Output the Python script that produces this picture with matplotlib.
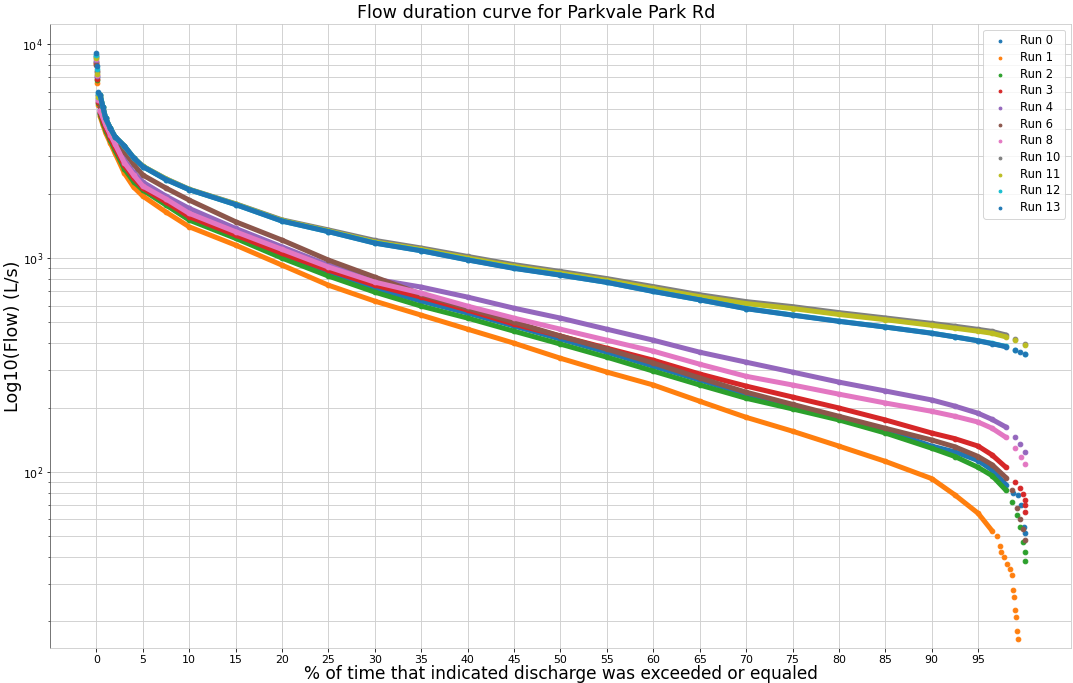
import matplotlib
matplotlib.use("Agg")
import matplotlib.pyplot as plt

nan = float('nan')

# exceedance percentages for the dense part of each curve
pct = [0.4, 0.7, 1, 1.5, 2, 3, 4, 5, 7.5, 10, 15, 20, 25, 30, 35, 40, 45, 50,
       55, 60, 65, 70, 75, 80, 85, 90, 92.5, 95, 96.5, 98]
# first few (highest) flows, drawn as loose points
head_pct = [0.0, 0.1, 0.2]

# flows in L/s at each pct value
run0 = [4750, 4350, 4000, 3600, 3250, 2680, 2330, 2103, 1809, 1539, 1261, 1022, 851, 724,
        629, 553, 481, 418, 363, 312, 269, 231, 203, 178, 157, 132, 124, 113, 102, 87]
run1 = [4600, 4200, 3850, 3450, 3100, 2500, 2150, 1950, 1642, 1401, 1150, 927, 747, 629,
        541, 465, 400, 340, 293, 255, 214, 180, 155, 132, 112, 93, 78, 64, 53, nan]
run2 = [4700, 4300, 3950, 3550, 3200, 2620, 2280, 2081, 1770, 1506, 1237, 1000, 824, 693,
        596, 524, 455, 396, 344, 296, 255, 221, 197, 175, 152, 129, 118, 105, 96, 82]
run3 = [4800, 4400, 4050, 3650, 3300, 2720, 2370, 2126, 1828, 1561, 1281, 1052, 878, 747,
        657, 571, 491, 432, 379, 333, 287, 252, 224, 199, 175, 152, 143, 132, 120, 105]
run4 = [4950, 4600, 4250, 3830, 3480, 2880, 2520, 2268, 1950, 1708, 1377, 1129, 927, 797,
        732, 657, 583, 524, 465, 413, 363, 326, 293, 263, 239, 217, 203, 188, 176, 162]
run6 = [5100, 4750, 4400, 4000, 3650, 3150, 2750, 2446, 2126, 1868, 1479, 1214, 979, 815,
        678, 583, 502, 432, 375, 323, 275, 236, 207, 182, 160, 141, 131, 118, 108, 94]
run8 = [4900, 4550, 4200, 3780, 3420, 2800, 2450, 2172, 1889, 1619, 1328, 1098, 908, 772,
        686, 596, 524, 465, 413, 367, 319, 280, 255, 231, 210, 192, 182, 171, 160, 145]
run10 = [5800, 5100, 4500, 4050, 3700, 3350, 2950, 2690, 2350, 2100, 1795, 1510, 1355, 1210,
         1115, 1018, 932, 866, 802, 736, 674, 626, 593, 556, 525, 495, 480, 464, 454, 437]
run11 = [5800, 5100, 4500, 4050, 3700, 3350, 2950, 2690, 2345, 2095, 1790, 1500, 1340, 1190,
         1098, 1000, 915, 850, 787, 721, 660, 613, 581, 545, 515, 485, 470, 455, 445, 428]
run12 = [5800, 5100, 4500, 4050, 3700, 3350, 2950, 2680, 2330, 2090, 1780, 1490, 1330, 1177,
         1083, 982, 897, 833, 770, 699, 638, 581, 542, 507, 476, 446, 428, 411, 399, 386]
run13 = [5800, 5100, 4500, 4050, 3700, 3350, 2950, 2680, 2330, 2090, 1780, 1490, 1330, 1175,
         1082, 980, 895, 832, 770, 698, 638, 580, 541, 506, 476, 445, 428, 410, 398, 385]

heads = {
    "0": [8800, 7000, 5600], "1": [8100, 6600, 5200], "2": [8300, 6800, 5300],
    "3": [8200, 6900, 5400], "4": [8400, 7100, 5500], "6": [8000, 7500, 5800],
    "8": [8500, 7200, 5500], "10": [8700, 7400, 5800], "11": [8600, 7300, 5700],
    "12": [8900, 7700, 5900], "13": [9100, 7900, 6000],
}

# low-flow points at the far end, drawn as loose points
tail0_pct = [98.8, 99.3, 99.6, 99.9, 100.0]
tail0 = [80, 78, 70, 55, 52]
tail1_pct = [97.0, 97.4, 97.5, 97.8, 98.1, 98.4, 98.6, 98.8, 98.9, 99.0, 99.1, 99.2, 99.3]
tail1 = [50, 45, 42, 40, 37, 35, 33, 28, 26, 22.5, 21, 18, 16.6]
tail2_pct = [98.7, 99.2, 99.5, 99.8, 100.0, 100.0]
tail2 = [72, 63, 55, 47, 42, 38.4]
tail3_pct = [99.0, 99.5, 99.8, 100.0, 100.0, 100.0]
tail3 = [90, 84, 78.5, 74, 70, 65]
tail4_pct = [99.0, 99.5, 100.0]
tail4 = [145, 135, 124]
tail6_pct = [98.7, 99.2, 99.5, 99.8, 100.0]
tail6 = [82, 68, 60, 54, 48]
tail8_pct = [99.0, 99.6, 100.0]
tail8 = [129, 118, 109]
tail10_pct = [99.0, 100.0]
tail10 = [418, 398]
tail11_pct = [99.0, 100.0]
tail11 = [412, 394]
tail12_pct = [99.0, 100.0]
tail12 = [371, 357]
tail13_pct = [99.0, 99.5, 100.0]
tail13 = [370, 362, 356]

runs = [
    ("0", run0, tail0_pct, tail0), ("1", run1, tail1_pct, tail1),
    ("2", run2, tail2_pct, tail2), ("3", run3, tail3_pct, tail3),
    ("4", run4, tail4_pct, tail4), ("6", run6, tail6_pct, tail6),
    ("8", run8, tail8_pct, tail8), ("10", run10, tail10_pct, tail10),
    ("11", run11, tail11_pct, tail11), ("12", run12, tail12_pct, tail12),
    ("13", run13, tail13_pct, tail13),
]

colors = plt.rcParams['axes.prop_cycle'].by_key()['color']

fig = plt.figure(figsize=(1073 / 72, 683 / 72), dpi=72)
ax = fig.add_axes([0.0466, 0.0512, 0.9515, 0.9137])

for i, (name, flow, tpct, tflow) in enumerate(runs):
    c = colors[i % len(colors)]
    ax.plot(pct, flow, '-', color=c, lw=5, solid_capstyle='round', zorder=2 + i * 0.01)
    xs = head_pct + pct + tpct
    ys = heads[name] + flow + tflow
    ax.scatter(xs, ys, s=22, color=c, label='Run ' + name, zorder=2 + i * 0.01)

ax.set_yscale('log')
ax.set_xlim(-5, 105)
ax.set_ylim(15, 12450)
ax.set_xticks(range(0, 100, 5))
ax.grid(True, which='both', color='#cfcfcf', lw=0.9)
ax.set_axisbelow(True)
ax.tick_params(labelsize=11)

for side in ['top', 'right', 'bottom']:
    ax.spines[side].set_color('#c8c8c8')
ax.spines['left'].set_color('#555555')

fig.text(0.5, 1 - 13 / 683, 'Flow duration curve for Parkvale Park Rd', fontsize=17.5,
         ha='center', va='center')
ax.set_xlabel('% of time that indicated discharge was exceeded or equaled', fontsize=17, labelpad=0)
ax.set_ylabel('Log10(Flow) (L/s)', fontsize=17.5, labelpad=0)
ax.legend(loc='upper right', fontsize=11.5, markerscale=0.6, labelspacing=0.32)

fig.savefig('out.png', dpi=72)
